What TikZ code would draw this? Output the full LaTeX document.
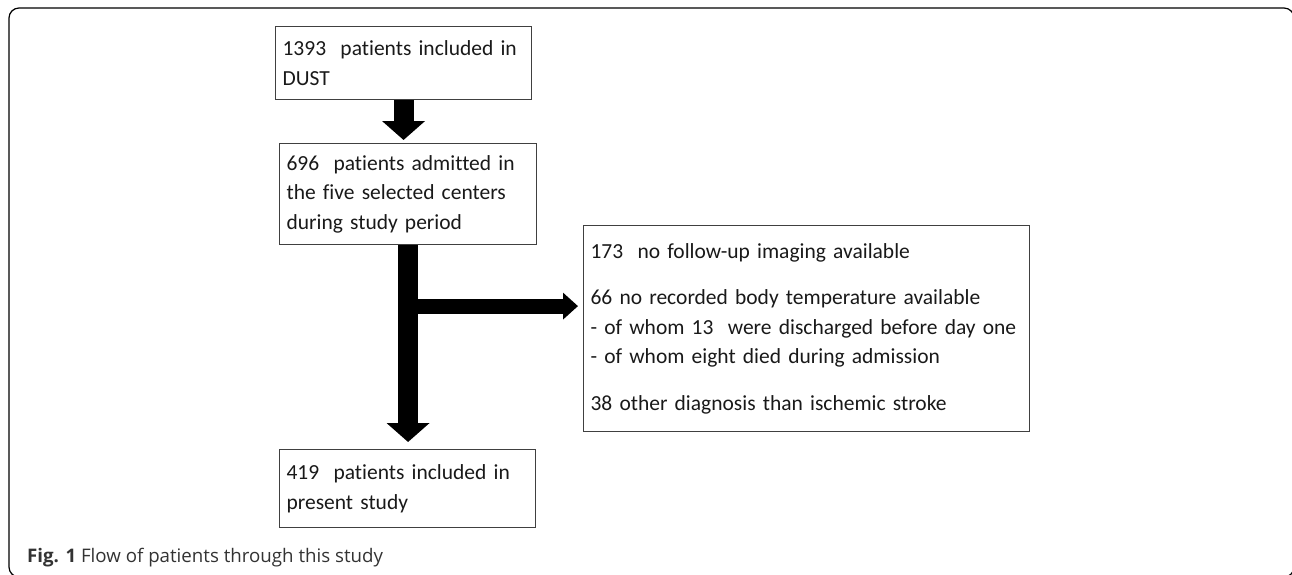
\documentclass[tikz,border=0pt]{standalone}
\usepackage{fontspec}
\setmainfont{Carlito}[Ligatures={NoCommon}]
\newfontfamily\capfont{Open Sans}
\newcommand{\tightspace}{\spaceskip=2.5pt plus 1pt\relax}
\usetikzlibrary{arrows.meta,positioning,calc}

\begin{document}
\begin{tikzpicture}[x=1pt,y=-1pt,
    box/.style={draw=black!75,line width=1.1pt,anchor=north west,inner xsep=7pt,inner ysep=0pt,
      align=left,text=black!90,font=\fontsize{21.5}{29.5}\selectfont\tightspace},
    bigarrow/.style={line width=20pt,-{Triangle[width=42pt,length=19pt]}}]
  \useasboundingbox (0,0) rectangle (1292,574);
  \draw[line width=1.2pt,rounded corners=10pt] (9,8) rectangle (1294,577);

  \node[box,text width=242pt,minimum height=73pt] (dust) at (275,26)
    {1393~ patients included in\\DUST};
  \node[box,text width=243pt,minimum height=101pt] (centers) at (279,143)
    {696~ patients admitted in\\the five selected centers\\during study period};
  \node[box,text width=242pt,minimum height=78pt] (present) at (279,449)
    {419~ patients included in\\present study};
  \node[box,text width=432pt,minimum height=206pt] (excl) at (583,225)
    {173~ no follow-up imaging available\\[17pt]
     66 no recorded body temperature available\\
     - of whom 13~ were discharged before day one\\
     - of whom eight died during admission\\[17pt]
     38 other diagnosis than ischemic stroke};

  \draw[bigarrow] (dust.south) -- ([yshift=3pt]dust.south |- centers.north);
  \draw[bigarrow] (centers.south) -- ([yshift=7pt]centers.south |- present.north);
  \coordinate (fork) at ([yshift=-61pt]centers.south);
  \draw[line width=15pt,-{Triangle[width=26pt,length=15pt]}] (fork) -- ([xshift=-5pt]fork -| excl.west);

  \node[anchor=base west,inner sep=0pt,text=black!80,font=\capfont\fontsize{18.7}{21}\selectfont] (caption) at (27,562)
    {\textbf{Fig. 1} Flow of patients through this study};
\end{tikzpicture}
\end{document}
